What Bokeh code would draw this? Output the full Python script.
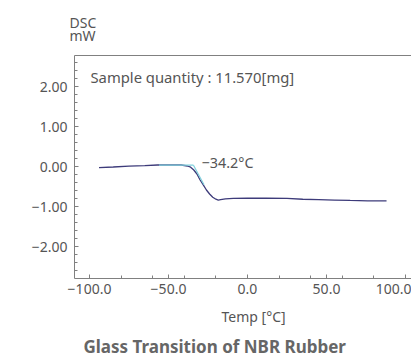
from bokeh.plotting import figure
from bokeh.models import Range1d, FixedTicker, LinearAxis, Title, Label
from bokeh.embed import file_html
from bokeh.resources import INLINE

# ---- data ----
temp = [-94, -85, -75, -65, -57, -50, -42, -38, -36, -34, -32, -30, -28, -26,
        -24, -22, -20, -18.5, -17, -14, -9, 0, 12, 25, 35, 45, 55, 65, 76, 88]
dsc = [-0.02, -0.005, 0.015, 0.03, 0.045, 0.045, 0.045, 0.02, -0.01, -0.08,
       -0.18, -0.33, -0.45, -0.58, -0.68, -0.76, -0.81, -0.83, -0.82, -0.80,
       -0.79, -0.785, -0.78, -0.79, -0.81, -0.82, -0.83, -0.84, -0.85, -0.85]
base_x = [-56, -34.2]
base_y = [0.04, 0.04]
tan_x = [-34.2, -27.5]
tan_y = [0.04, -0.45]
x_ticks = [-100, -50, 0, 50, 100]
x_tick_labels = ["\u2212100.0", "\u221250.0", "0.0", "50.0", "100.0"]
y_ticks = [-2, -1, 0, 1, 2]
y_tick_labels = ["\u22122.00", "\u22121.00", "0.00", "1.00", "2.00"]
x_minor = list(range(-100, 101, 20)) + [-50, 50]
y_minor = [round(-2.8 + 0.2 * i, 1) for i in range(29)]
tg_label = "\u221234.2\u00b0C"
sample_label = "Sample quantity : 11.570[mg]"
title_text = "Glass Transition of NBR Rubber"
x_label = "Temp [\u00b0C]"
y_label = "DSC\nmW"

FONT = "Noto Sans"
TXT = "#555555"
AX = "#808080"

p = figure(width=411, height=357, output_backend="svg", toolbar_location=None,
           x_range=Range1d(-109.5, 103.8), y_range=Range1d(-2.79, 2.78),
           min_border_left=74, min_border_right=0, min_border_top=50,
           min_border_bottom=70, title=None)
p.grid.visible = False
p.outline_line_color = None
p.background_fill_color = "white"
p.border_fill_color = "white"

xa = p.xaxis[0]
xa.ticker = FixedTicker(ticks=x_ticks, minor_ticks=x_minor)
xa.major_label_overrides = {float(t): l for t, l in zip(x_ticks, x_tick_labels)}
ya = p.yaxis[0]
ya.ticker = FixedTicker(ticks=y_ticks, minor_ticks=y_minor)
ya.major_label_overrides = {float(t): l for t, l in zip(y_ticks, y_tick_labels)}
for ax in (xa, ya):
    ax.axis_line_color = AX
    ax.major_tick_line_color = AX
    ax.minor_tick_line_color = AX
    ax.major_tick_in = 4
    ax.major_tick_out = 0
    ax.minor_tick_in = 3
    ax.minor_tick_out = 0
    ax.major_label_text_font = FONT
    ax.major_label_text_font_size = "14px"
    ax.major_label_text_color = TXT
xa.major_label_standoff = 5
ya.major_label_standoff = 7

top = LinearAxis(ticker=FixedTicker(ticks=[], minor_ticks=[]),
                 major_label_text_font_size="0px", axis_line_color=AX,
                 major_tick_line_color=None, minor_tick_line_color=None,
                 major_label_standoff=0)
p.add_layout(top, "above")
p.add_layout(Title(text=y_label, align="left", offset=-5, standoff=21,
                   text_font=FONT, text_font_size="14px", text_color=TXT,
                   text_line_height=0.7, text_font_style="normal"), "above")
p.add_layout(Title(text=x_label, align="left", offset=147, standoff=16,
                   text_font=FONT, text_font_size="14px", text_color=TXT,
                   text_font_style="normal"), "below")
p.add_layout(Title(text=title_text, align="left", offset=9, standoff=-1,
                   text_font=FONT, text_font_size="17px", text_color="#666666",
                   text_font_style="bold"), "below")

p.line(temp, dsc, line_color="#3d3b7a", line_width=1.3)
p.line(base_x, base_y, line_color="#7fd0dc", line_width=1.2)
p.line(tan_x, tan_y, line_color="#7fd0dc", line_width=1.2)

def lab(x, y, t, size):
    p.add_layout(Label(x=x, y=y, text=t, text_font=FONT, text_font_size=size,
                       text_align="left", text_baseline="middle",
                       text_color=TXT))

lab(-99.4, 2.235, sample_label, "14.8px")
lab(-29.1, 0.106, tg_label, "14.4px")

open("out.html", "w").write(file_html(p, INLINE))
